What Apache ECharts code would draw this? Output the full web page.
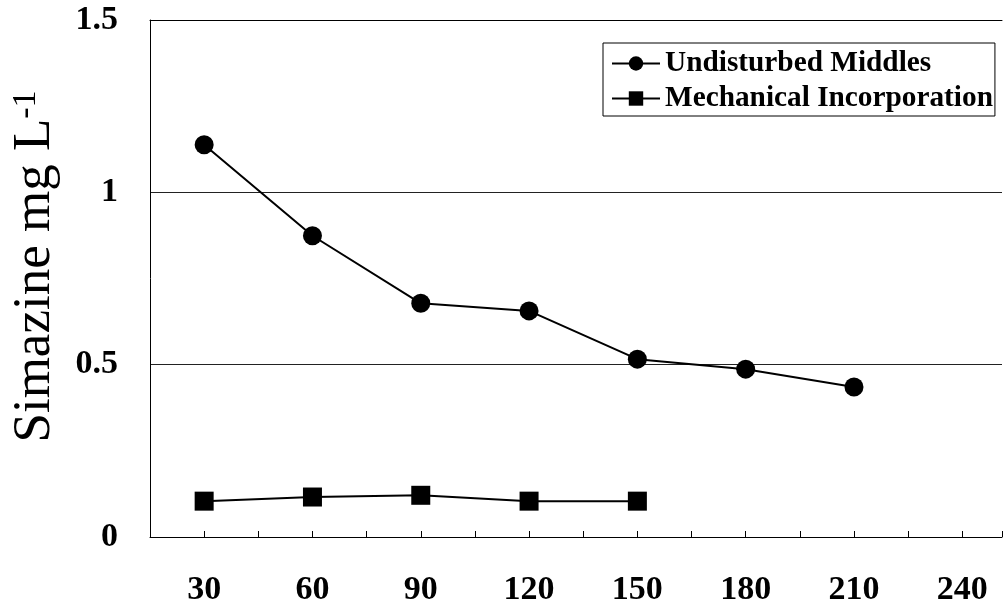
<!DOCTYPE html>
<html>
<head>
<meta charset="utf-8">
<script src="https://cdn.jsdelivr.net/npm/echarts@6/dist/echarts.min.js"></script>
<style>html,body{margin:0;padding:0;background:#fff;overflow:hidden}#c{width:1005px;height:607px}</style>
</head>
<body>
<div id="c"></div>
<script>
var days = [30, 60, 90, 120, 150, 180, 210];
var undisturbed = [1.138, 0.874, 0.678, 0.656, 0.516, 0.487, 0.435];
var mechanical = [0.104, 0.116, 0.121, 0.104, 0.104];
var xLabelValues = [30, 60, 90, 120, 150, 180, 210, 240];
var seriesNames = ['Undisturbed Middles', 'Mechanical Incorporation'];

function pairs(xs, ys) { return ys.map(function (v, i) { return [xs[i], v]; }); }

var chart = echarts.init(document.getElementById('c'));
var serif = 'Liberation Serif';
chart.setOption({
  animation: false,
  backgroundColor: '#fff',
  grid: { left: 150, top: 20, bottom: 70, right: 0 },
  legend: {
    orient: 'vertical', left: 603, top: 43,
    padding: [6, 2, 3, 8], itemGap: 6, itemWidth: 48, itemHeight: 18,
    backgroundColor: '#fff', borderColor: '#000', borderWidth: 1,
    textStyle: { fontFamily: serif, fontWeight: 'bold', fontSize: 29.3, color: '#000' },
    data: seriesNames
  },
  xAxis: [{
    type: 'value', min: 15, max: 251, interval: 15,
    axisLine: { lineStyle: { color: '#000', width: 1 } },
    axisTick: { inside: true, length: 6, lineStyle: { color: '#000' } },
    splitLine: { show: false },
    axisLabel: {
      margin: 36, fontFamily: serif, fontWeight: 'bold', fontSize: 34, color: '#000',
      showMinLabel: true, showMaxLabel: true,
      formatter: function (v) { return xLabelValues.indexOf(v) >= 0 ? String(v) : ''; }
    }
  }, {
    type: 'value', position: 'top', min: 15, max: 251, interval: 15,
    axisLine: { show: true, onZero: false, lineStyle: { color: '#000', width: 1 } },
    axisTick: { show: false }, axisLabel: { show: false }, splitLine: { show: false }
  }],
  yAxis: {
    type: 'value', min: 0, max: 1.5, interval: 0.5,
    name: 'Simazine mg L{s|-1}', nameLocation: 'middle', nameGap: 88,
    nameTextStyle: {
      fontFamily: serif, fontSize: 53, color: '#000', padding: [0, 0, 0, 24],
      rich: { s: { fontFamily: serif, fontSize: 34, color: '#000', verticalAlign: 'top' } }
    },
    axisLine: { show: true, lineStyle: { color: '#000', width: 1 } },
    axisTick: { show: false },
    splitLine: { show: true, lineStyle: { color: '#222', width: 1 } },
    axisLabel: { margin: 32, fontFamily: serif, fontWeight: 'bold', fontSize: 34, color: '#000' }
  },
  series: [
    {
      name: seriesNames[0], type: 'line', xAxisIndex: 0, data: pairs(days, undisturbed),
      symbol: 'circle', symbolSize: 19, color: '#000',
      lineStyle: { color: '#000', width: 2 }, itemStyle: { color: '#000' }
    },
    {
      name: seriesNames[1], type: 'line', xAxisIndex: 0, data: pairs(days, mechanical),
      symbol: 'rect', symbolSize: 19, color: '#000',
      lineStyle: { color: '#000', width: 2 }, itemStyle: { color: '#000' }
    }
  ]
});
</script>
</body>
</html>
